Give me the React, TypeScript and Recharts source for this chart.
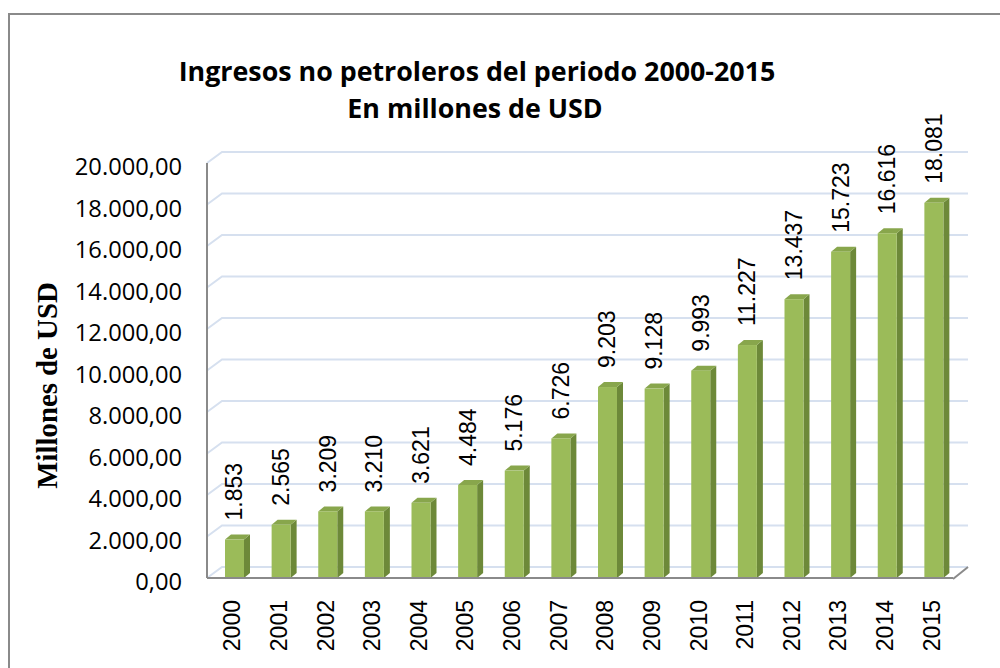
import React from 'react';
import { BarChart, Bar, XAxis, YAxis, CartesianGrid, LabelList } from 'recharts';

const years = ['2000', '2001', '2002', '2003', '2004', '2005', '2006', '2007', '2008', '2009', '2010', '2011', '2012', '2013', '2014', '2015'];
const ingresos = [1853, 2565, 3209, 3210, 3621, 4484, 5176, 6726, 9203, 9128, 9993, 11227, 13437, 15723, 16616, 18081];
const yTicks = [0, 2000, 4000, 6000, 8000, 10000, 12000, 14000, 16000, 18000, 20000];

const data = years.map((year, i) => ({ year, value: ingresos[i] }));

// back wall offset of the fake 3D look
const DX = 15;
const DY = 11;
const AXIS_GRAY = '#8a8a8a';

const fmt = (n: number, dec = 0) => {
  const [int, frac] = n.toFixed(dec).split('.');
  const g = int.replace(/\B(?=(\d{3})+(?!\d))/g, '.');
  return frac ? `${g},${frac}` : g;
};

const Bar3D = (props: any) => {
  const { x, y, width, height } = props;
  const fx = x + 4;
  const d = 6;
  const t = 5;
  return (
    <g>
      <path
        d={`M${fx + width} ${y} L${fx + width + d} ${y - t} L${fx + width + d} ${y + height - t} L${fx + width} ${y + height} Z`}
        fill="#6D8939"
      />
      <path d={`M${fx} ${y} L${fx + d} ${y - t} L${fx + width + d} ${y - t} L${fx + width} ${y} Z`} fill="#88A64C" />
      <rect x={fx} y={y} width={width} height={height} fill="#9BBB59" />
    </g>
  );
};

const gridLine = (p: any) => {
  const { x1, x2, y1, index } = p;
  return (
    <g key={`grid-${index}`}>
      <path
        d={`M${x1} ${y1} L${x1 + DX} ${y1 - DY} L${x2 + DX} ${y1 - DY}`}
        fill="none"
        stroke="#D6E0EF"
        strokeWidth={2}
      />
      {index === 0 && (
        <path d={`M${x2} ${y1 + 1} L${x2 + DX} ${y1 - DY}`} fill="none" stroke={AXIS_GRAY} strokeWidth={2} />
      )}
    </g>
  );
};

const YTick = ({ x, y, payload }: any) => (
  <text x={x} y={y + 3} textAnchor="end" dominantBaseline="central" fontFamily="Open Sans" fontSize={23.7} fill="#000">
    {fmt(payload.value, 2)}
  </text>
);

const XTick = ({ x, y, payload }: any) => (
  <text
    x={x + 2}
    y={y}
    transform={`rotate(-90 ${x + 2} ${y})`}
    textAnchor="end"
    dominantBaseline="central"
    fontFamily="Liberation Sans"
    fontSize={23}
    fill="#000"
  >
    {payload.value}
  </text>
);

const ValueLabel = (props: any) => {
  const { x, y, width, value } = props;
  const cx = x + width / 2 + 4;
  const cy = y - 19;
  return (
    <text
      x={cx}
      y={cy}
      transform={`rotate(-90 ${cx} ${cy})`}
      textAnchor="start"
      dominantBaseline="central"
      fontFamily="Liberation Sans"
      fontSize={23}
      fill="#000"
    >
      {fmt(value)}
    </text>
  );
};

export default function App() {
  return (
    <div style={{ position: 'absolute', left: 0, top: 0, width: 1000, height: 668, background: '#fff', overflow: 'hidden' }}>
      <div
        style={{
          position: 'absolute',
          left: 8,
          top: 13,
          width: 1000,
          height: 700,
          borderLeft: `2px solid ${AXIS_GRAY}`,
          borderTop: `2px solid ${AXIS_GRAY}`,
        }}
      />
      <BarChart width={1000} height={668} data={data} margin={{ top: 163, right: 47, bottom: 0, left: 0 }}>
        <CartesianGrid horizontal={gridLine} vertical={false} />
        <XAxis
          dataKey="year"
          interval={0}
          height={90}
          tickSize={0}
          tickMargin={22}
          axisLine={{ stroke: AXIS_GRAY, strokeWidth: 2 }}
          tickLine={false}
          tick={<XTick />}
        />
        <YAxis
          domain={[0, 20000]}
          ticks={yTicks}
          width={207}
          tickSize={0}
          tickMargin={25}
          axisLine={{ stroke: AXIS_GRAY, strokeWidth: 2 }}
          tickLine={false}
          tick={<YTick />}
          label={{
            content: ({ viewBox }: any) => {
              const lx = 47;
              const ly = viewBox.y + viewBox.height / 2 + 15;
              return (
                <text
                  x={lx}
                  y={ly}
                  transform={`rotate(-90 ${lx} ${ly})`}
                  textAnchor="middle"
                  dominantBaseline="central"
                  fontFamily="Liberation Serif"
                  fontWeight="bold"
                  fontSize={28.8}
                  fill="#000"
                >
                  Millones de USD
                </text>
              );
            },
          }}
        />
        <Bar dataKey="value" barSize={19} shape={<Bar3D />} isAnimationActive={false}>
          <LabelList dataKey="value" content={<ValueLabel />} />
        </Bar>
      </BarChart>
      <svg width={1000} height={140} style={{ position: 'absolute', left: 0, top: 0, pointerEvents: 'none' }}>
        <text x={477} y={81} textAnchor="middle" fontFamily="Open Sans" fontWeight="bold" fontSize={26.8} fill="#000">
          Ingresos no petroleros del periodo 2000-2015
        </text>
        <text x={475} y={118} textAnchor="middle" fontFamily="Open Sans" fontWeight="bold" fontSize={26.8} fill="#000">
          En millones de USD
        </text>
      </svg>
    </div>
  );
}
